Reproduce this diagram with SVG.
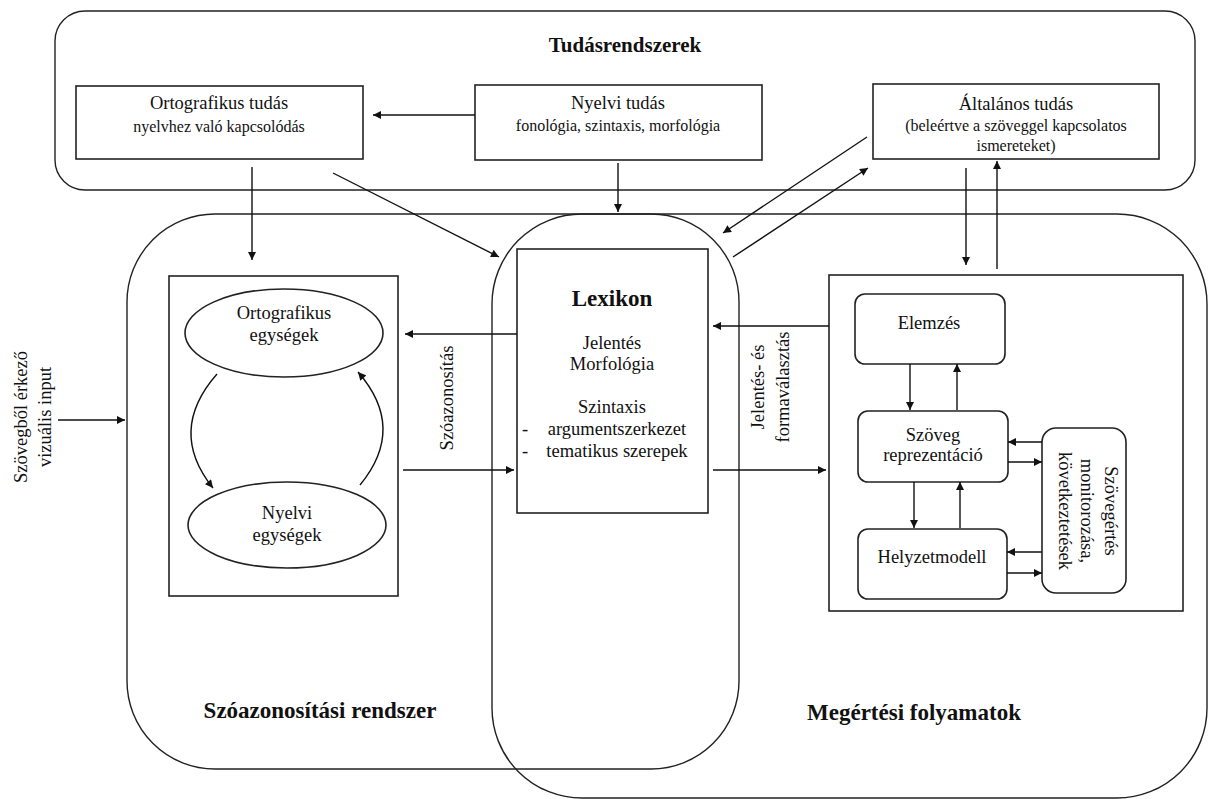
<svg xmlns="http://www.w3.org/2000/svg" width="1211" height="799" viewBox="0 0 1211 799" font-family="'Liberation Serif', 'DejaVu Serif', serif">
<style>
.frame{fill:none;stroke:#222;stroke-width:1.4}
.box{fill:none;stroke:#222;stroke-width:1.6}
.arr{fill:none;stroke:#111;stroke-width:1.4;marker-end:url(#ah)}
text{font-family:'Liberation Serif','DejaVu Serif',serif;fill:#111;text-anchor:middle}
.t{font-size:18.5px}
.s{font-size:16px}
.b{font-size:23px;font-weight:bold}
</style>
<defs>
<marker id="ah" viewBox="0 0 10 10" refX="10" refY="5" markerWidth="9" markerHeight="8" markerUnits="userSpaceOnUse" orient="auto">
<path d="M0,0 L10,5 L0,10 z" fill="#111"/>
</marker>
</defs>
<rect width="1211" height="799" fill="#fff"/>

<g id="tudasrendszerek">
<rect class="frame" x="55" y="11" width="1140" height="179" rx="30"/>
<text class="b" x="625" y="52" style="font-size:21px">Tudásrendszerek</text>
</g>

<g id="szoazonositasi-rendszer">
<rect class="frame" x="127" y="214" width="612" height="555" rx="88"/>
<text class="b" x="320" y="718">Szóazonosítási rendszer</text>
</g>

<g id="megertesi-folyamatok">
<rect class="frame" x="492" y="214" width="715" height="584" rx="90"/>
<text class="b" x="914" y="720">Megértési folyamatok</text>
</g>

<g id="ortografikus-tudas">
<rect class="box" x="76" y="86" width="287" height="73"/>
<text class="t" x="219" y="109">Ortografikus tudás</text>
<text class="s" x="219" y="132">nyelvhez való kapcsolódás</text>
</g>

<g id="nyelvi-tudas">
<rect class="box" x="475" y="85" width="287" height="75"/>
<text class="t" x="618" y="109">Nyelvi tudás</text>
<text class="s" x="618" y="131">fonológia, szintaxis, morfológia</text>
</g>

<g id="altalanos-tudas">
<rect class="box" x="873" y="84" width="286" height="75"/>
<text class="t" x="1016" y="110">Általános tudás</text>
<text class="s" x="1016" y="131">(beleértve a szöveggel kapcsolatos</text>
<text class="s" x="1016" y="151">ismereteket)</text>
</g>

<g id="szoazonositasi-egysegek">
<rect class="box" x="169" y="276" width="229" height="320"/>
</g>

<g id="ortografikus-egysegek">
<ellipse class="box" cx="284" cy="333" rx="99" ry="44"/>
<text class="t" x="284" y="319">Ortografikus</text>
<text class="t" x="284" y="341">egységek</text>
</g>

<g id="nyelvi-egysegek">
<ellipse class="box" cx="287" cy="525" rx="99" ry="43"/>
<text class="t" x="287" y="519">Nyelvi</text>
<text class="t" x="287" y="541">egységek</text>
</g>

<g id="lexikon">
<rect class="box" x="517" y="249" width="191" height="264"/>
<text class="b" x="612" y="306">Lexikon</text>
<text class="t" x="612" y="349">Jelentés</text>
<text class="t" x="612" y="370">Morfológia</text>
<text class="t" x="612" y="413">Szintaxis</text>
<text class="t" x="525" y="435">-</text>
<text class="t" x="617" y="435">argumentszerkezet</text>
<text class="t" x="525" y="457">-</text>
<text class="t" x="617" y="457">tematikus szerepek</text>
</g>

<g id="megertesi-doboz">
<rect class="box" x="829" y="275" width="354" height="336"/>
</g>

<g id="elemzes">
<rect class="box" x="855" y="294" width="150" height="70" rx="10"/>
<text class="t" x="929" y="329">Elemzés</text>
</g>

<g id="szoveg-reprezentacio">
<rect class="box" x="858" y="411" width="150" height="71" rx="10"/>
<text class="t" x="933" y="441">Szöveg</text>
<text class="t" x="933" y="461">reprezentáció</text>
</g>

<g id="helyzetmodell">
<rect class="box" x="858" y="529" width="149" height="70" rx="10"/>
<text class="t" x="932" y="563">Helyzetmodell</text>
</g>

<g id="szovegertes-monitorozasa">
<rect class="box" x="1042" y="428" width="84" height="165" rx="14"/>
<text class="t" transform="translate(1105,511) rotate(90)">Szövegértés</text>
<text class="t" transform="translate(1081,511) rotate(90)">monitorozása,</text>
<text class="t" transform="translate(1059,511) rotate(90)">következtetések</text>
</g>

<g id="labels">
<text class="t" transform="translate(27,417) rotate(-90)">Szövegből érkező</text>
<text class="t" transform="translate(51,417) rotate(-90)">vizuális input</text>
<text class="t" transform="translate(453,398) rotate(-90)">Szóazonosítás</text>
<text class="t" transform="translate(764,387) rotate(-90)">Jelentés- és</text>
<text class="t" transform="translate(789,387) rotate(-90)">formaválasztás</text>
</g>

<g id="connectors">
<line class="arr" x1="475" y1="115" x2="373" y2="115"/>
<line class="arr" x1="252" y1="167" x2="252" y2="260"/>
<line class="arr" x1="333" y1="173" x2="499" y2="257"/>
<line class="arr" x1="618" y1="163" x2="618" y2="212"/>
<line class="arr" x1="867" y1="137" x2="723" y2="233"/>
<line class="arr" x1="733" y1="257" x2="868" y2="168"/>
<line class="arr" x1="966" y1="168" x2="966" y2="265"/>
<line class="arr" x1="997" y1="269" x2="997" y2="161"/>
<line class="arr" x1="58" y1="420" x2="125" y2="420"/>
<line class="arr" x1="517" y1="334" x2="405" y2="334"/>
<line class="arr" x1="403" y1="470" x2="514" y2="470"/>
<path class="arr" d="M217,374 Q167,431 213,488"/>
<path class="arr" d="M360,485 Q407,428 358,372"/>
<line class="arr" x1="829" y1="326" x2="713" y2="326"/>
<line class="arr" x1="713" y1="470" x2="826" y2="470"/>
<line class="arr" x1="910" y1="364" x2="910" y2="410"/>
<line class="arr" x1="957" y1="410" x2="957" y2="364"/>
<line class="arr" x1="914" y1="482" x2="914" y2="528"/>
<line class="arr" x1="960" y1="528" x2="960" y2="482"/>
<line class="arr" x1="1042" y1="442" x2="1008" y2="442"/>
<line class="arr" x1="1008" y1="462" x2="1042" y2="462"/>
<line class="arr" x1="1042" y1="552" x2="1007" y2="552"/>
<line class="arr" x1="1007" y1="573" x2="1042" y2="573"/>
</g>
</svg>
